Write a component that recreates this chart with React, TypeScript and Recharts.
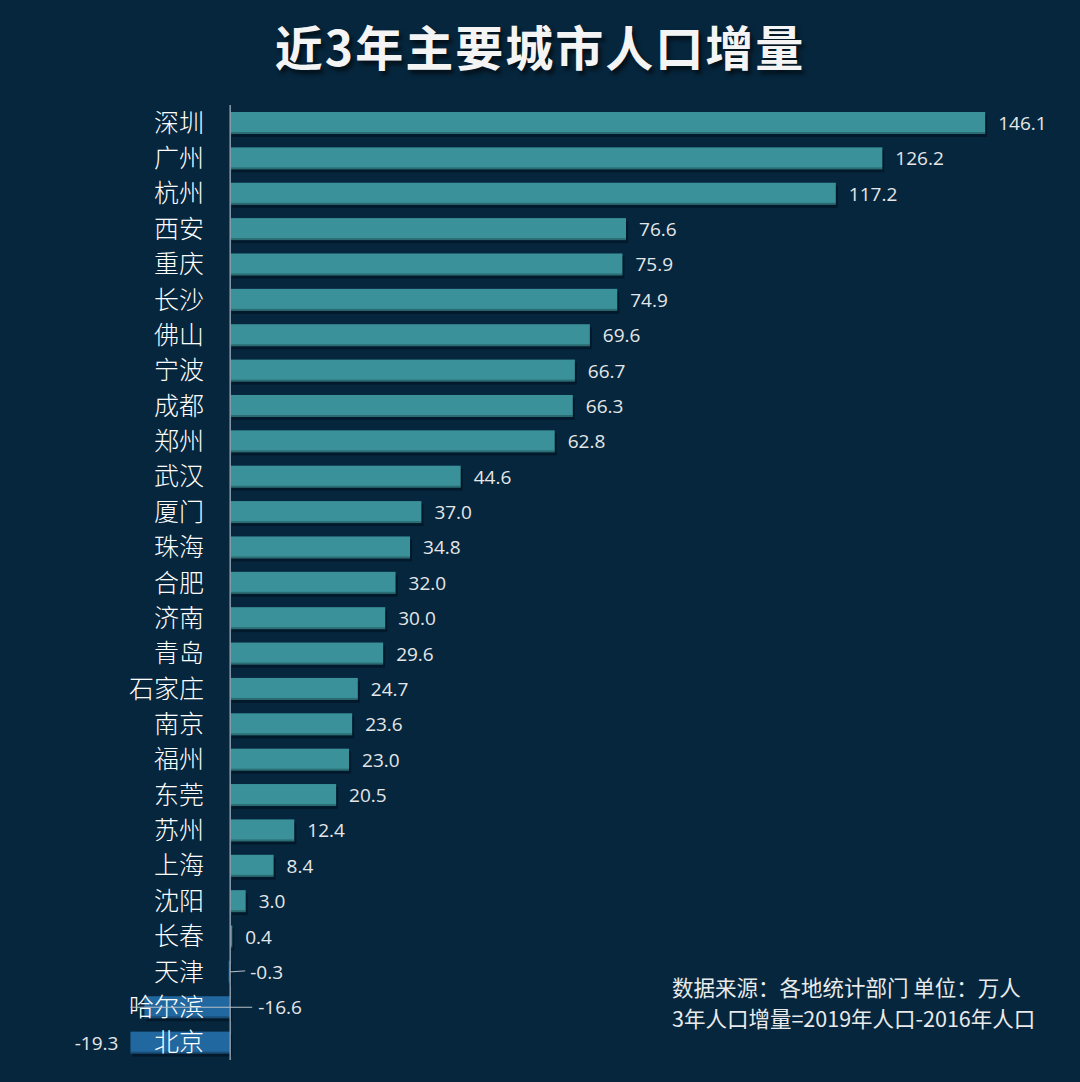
import React from "react";
import { BarChart, Bar, Cell, XAxis, YAxis, ReferenceLine, LabelList } from "recharts";

const cities = [
  "深圳", "广州", "杭州", "西安", "重庆", "长沙", "佛山", "宁波", "成都", "郑州",
  "武汉", "厦门", "珠海", "合肥", "济南", "青岛", "石家庄", "南京", "福州", "东莞",
  "苏州", "上海", "沈阳", "长春", "天津", "哈尔滨", "北京",
];

const increase = [
  146.1, 126.2, 117.2, 76.6, 75.9, 74.9, 69.6, 66.7, 66.3, 62.8,
  44.6, 37.0, 34.8, 32.0, 30.0, 29.6, 24.7, 23.6, 23.0, 20.5,
  12.4, 8.4, 3.0, 0.4, -0.3, -16.6, -19.3,
];

const title = "近3年主要城市人口增量";
const notes = ["数据来源：各地统计部门 单位：万人", "3年人口增量=2019年人口-2016年人口"];

const data = cities.map((city, i) => ({ city, value: increase[i] }));

const BG = "#06263d";
const TEAL = "#3a9199";
const BLUE = "#2268a0";
const CJK = '"Noto Sans CJK SC", "Noto Sans", sans-serif';
const NUM = '"Open Sans", "Noto Sans", sans-serif';

const CityTick = (props: any) => {
  const { y, payload } = props;
  return (
    <text
      x={204}
      y={y - 2}
      textAnchor="end"
      dominantBaseline="central"
      fill="#ffffff"
      fontSize={25}
      fontFamily={CJK}
      fontWeight={300}
    >
      {payload.value}
    </text>
  );
};

const ShadowBar = (props: any) => {
  const { x, y, width, height, fill } = props;
  const left = Math.min(x, x + width);
  const w = Math.abs(width);
  return (
    <g>
      <rect x={left + 2} y={y + 3} width={w} height={height} fill="#011424" opacity={0.7} />
      <rect x={left} y={y} width={w} height={height} fill={fill} />
      <rect x={left} y={y + height - 2} width={w} height={2} fill="#000" opacity={0.25} />
    </g>
  );
};

const ValueLabel = (props: any) => {
  const { x, y, width, height, value } = props;
  const left = Math.min(x, x + width);
  const right = Math.max(x, x + width);
  const cy = y + height / 2;
  const text = Number(value).toFixed(1);
  const style = { fontFamily: NUM, fontSize: 19, fill: "#e4e6e8" };
  if (value >= 0) {
    return (
      <text x={right + 13} y={cy} dominantBaseline="central" {...style}>
        {text}
      </text>
    );
  }
  if (value > -5) {
    return (
      <g>
        <line x1={right} y1={cy} x2={right + 15} y2={cy - 1} stroke="#b8c0c8" strokeWidth={1} />
        <text x={right + 20} y={cy} dominantBaseline="central" {...style}>
          {text}
        </text>
      </g>
    );
  }
  if (value > -18) {
    return (
      <g>
        <line x1={left - 14} y1={cy} x2={right + 22} y2={cy} stroke="#b8c0c8" strokeWidth={1} />
        <text x={right + 28} y={cy} dominantBaseline="central" {...style}>
          {text}
        </text>
      </g>
    );
  }
  return (
    <text x={left - 12} y={cy} textAnchor="end" dominantBaseline="central" {...style}>
      {text}
    </text>
  );
};

export default function App() {
  return (
    <div style={{ position: "fixed", left: 0, top: 0, width: 1080, height: 1082, background: BG, overflow: "hidden" }}>
      <div
        style={{
          position: "absolute",
          top: 15,
          left: 0,
          width: 1080,
          textAlign: "center",
          color: "#f4f4f4",
          fontFamily: CJK,
          fontWeight: 700,
          fontSize: 48,
          letterSpacing: 2,
          lineHeight: "60px",
          textShadow: "3px 4px 4px rgba(0,0,0,0.6)",
        }}
      >
        {title}
      </div>
      <BarChart
        width={1080}
        height={1082}
        data={data}
        layout="vertical"
        margin={{ top: 105, right: 23, bottom: 22, left: 0 }}
        barCategoryGap={0}
      >
        <XAxis type="number" domain={[-25, 160]} hide />
        <YAxis
          type="category"
          dataKey="city"
          width={101}
          axisLine={false}
          tickLine={false}
          interval={0}
          tick={<CityTick />}
        />
        <Bar dataKey="value" barSize={22} shape={<ShadowBar />} isAnimationActive={false}>
          {data.map((d, i) => (
            <Cell key={`c-${i}`} fill={d.value >= 0 ? TEAL : BLUE} />
          ))}
          <LabelList dataKey="value" content={<ValueLabel />} />
        </Bar>
        <ReferenceLine x={0} stroke="#8d9ba8" strokeWidth={1.5} />
      </BarChart>
      <div
        style={{
          position: "absolute",
          left: 672,
          top: 971,
          color: "#e8eaec",
          fontFamily: CJK,
          fontSize: 21.5,
          lineHeight: "31px",
          whiteSpace: "nowrap",
        }}
      >
        <div>{notes[0]}</div>
        <div>{notes[1]}</div>
      </div>
    </div>
  );
}
